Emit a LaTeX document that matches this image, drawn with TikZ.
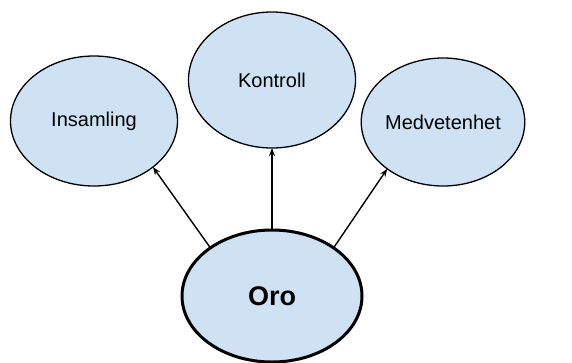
\documentclass[tikz,border=0pt]{standalone}
\usepackage{fontspec}
\setmainfont{Liberation Sans}
\usetikzlibrary{shapes.geometric,arrows.meta}
\definecolor{bubble}{HTML}{CFE2F3}
\begin{document}
\begin{tikzpicture}[x=1pt,y=-1pt,
  bubble/.style={ellipse,draw=black,fill=bubble,line width=1.3pt,inner sep=0pt,outer sep=0pt,font=\fontsize{20}{24}\selectfont},
  conn/.style={line width=1.4pt,-{Stealth[length=8pt,width=6pt]}}]
\useasboundingbox (0,0) rectangle (572,362);
\node[bubble,minimum width=167pt,minimum height=130pt] (ins) at (94,121) {Insamling};
\node[bubble,minimum width=167pt,minimum height=136pt] (kon) at (272,80) {Kontroll};
\node[bubble,minimum width=160pt,minimum height=128pt] (med) at (443,122) {Medvetenhet};
\node[bubble,line width=3pt,minimum width=180pt,minimum height=132pt,font=\fontsize{27}{30}\selectfont\bfseries] (oro) at (272,296) {Oro};
\draw[conn] (oro.90) -- (kon.-90);
\draw[conn] (oro.142) -- (ins.-38);
\draw[conn] (oro.38) -- (med.-140);
\end{tikzpicture}
\end{document}
